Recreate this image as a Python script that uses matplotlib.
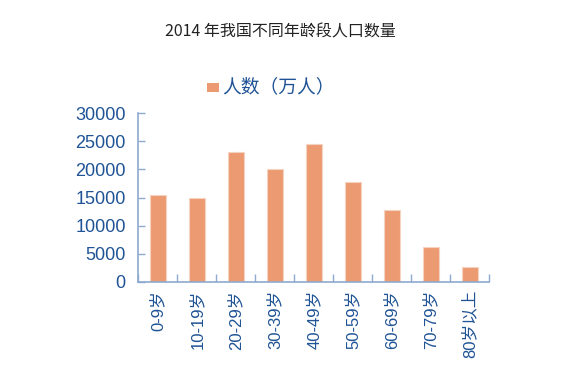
import matplotlib
matplotlib.use("Agg")
import matplotlib.pyplot as plt
import numpy as np
from matplotlib.patches import Rectangle

plt.rcParams['font.family'] = ['Noto Sans CJK SC', 'DejaVu Sans']

categories = ['0-9岁', '10-19岁', '20-29岁', '30-39岁', '40-49岁', '50-59岁', '60-69岁', '70-79岁', '80岁以上']
values = [15500, 15000, 23100, 20000, 24500, 17700, 12700, 6200, 2600]
yticks = [0, 5000, 10000, 15000, 20000, 25000, 30000]
title = '2014 年我国不同年龄段人口数量'
legend_label = '人数（万人）'

bar_color = '#EC9A72'
text_color = '#1F5395'
spine_color = '#8EAACE'

W, H = 567, 384
fig = plt.figure(figsize=(W/100, H/100), dpi=100)
ax = fig.add_axes([138.3/W, 1-281.7/H, (489.3-138.3)/W, (281.7-113.3)/H])

x = np.arange(len(categories))
ax.bar(x, values, width=0.41, color=bar_color, edgecolor='#F6D2C0', linewidth=0.8, zorder=2)
ax.set_xlim(-0.5, len(categories)-0.5)
ax.set_ylim(0, 30000)

ax.set_yticks(yticks)
ax.set_yticklabels([str(v) for v in yticks], family=['Liberation Sans'], fontsize=13, color=text_color)
ax.tick_params(axis='y', direction='in', length=5, width=1, color=spine_color, pad=9)

# x ticks at category boundaries, labels at centers
ax.set_xticks(np.arange(len(categories)+1) - 0.5)
ax.set_xticklabels([])
ax.tick_params(axis='x', which='major', direction='in', length=6, width=1, color=spine_color)
ax.set_xticks(x, minor=True)
ax.set_xticklabels(categories, minor=True, rotation=90, fontsize=12, color=text_color,
                   family=['Liberation Sans', 'Noto Sans CJK SC'])
ax.tick_params(axis='x', which='minor', length=0, pad=6)

for s in ['top', 'right']:
    ax.spines[s].set_visible(False)
for s in ['left', 'bottom']:
    ax.spines[s].set_color(spine_color)
    ax.spines[s].set_linewidth(1.2)

fig.text(280/W, 1-32/H, title, ha='center', va='center', fontsize=11.5, color='#222222')

# legend
fig.patches.append(Rectangle((207/W, 1-92/H), 12/W, 9/H, transform=fig.transFigure,
                             facecolor=bar_color, edgecolor='none'))
fig.text(222/W, 1-87/H, legend_label, ha='left', va='center', fontsize=13.5, color=text_color)

fig.savefig('out.png', dpi=100)
